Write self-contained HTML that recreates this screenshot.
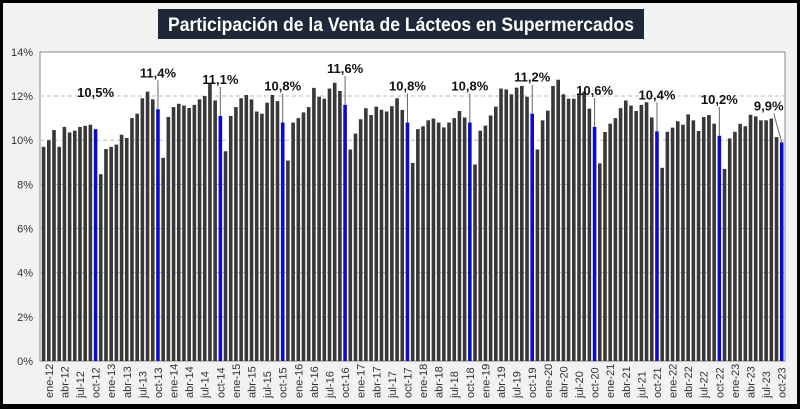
<!DOCTYPE html>
<html><head><meta charset="utf-8"><style>
html,body{margin:0;padding:0;}
body{width:800px;height:409px;overflow:hidden;background:#000;font-family:"Liberation Sans",sans-serif;}
#wrap{position:absolute;left:3px;top:3px;width:794px;height:401px;background:#f2f2f2;}
</style></head><body>
<div id="wrap"></div>
<svg id="chart" width="800" height="409" style="position:absolute;left:0;top:0">
<rect x="158" y="9" width="486" height="30" fill="#1e2838"/>
<text x="401" y="31" text-anchor="middle" fill="#fff" font-size="19" font-weight="bold" textLength="466" lengthAdjust="spacingAndGlyphs" font-family="Liberation Sans, sans-serif">Participación de la Venta de Lácteos en Supermercados</text>
<rect x="40" y="52" width="745" height="309" fill="#fff" stroke="#888" stroke-width="1"/>
<g id="grid"></g><g id="bars"></g><g id="ylab"></g><g id="xlab"></g><g id="labels"></g>
</svg>
<script>
const months=["ene","feb","mar","abr","may","jun","jul","ago","sep","oct","nov","dic"];
const values=[9.7,10.0,10.46,9.7,10.6,10.35,10.43,10.6,10.65,10.7,10.5,
8.46,9.6,9.7,9.8,10.25,10.1,11.0,11.2,11.9,12.2,11.85,11.4,
9.2,11.05,11.5,11.65,11.57,11.46,11.6,11.85,12.0,12.6,11.8,11.1,
9.5,11.1,11.5,11.9,12.05,11.85,11.3,11.2,11.7,12.05,11.77,10.8,
9.08,10.8,11.0,11.26,11.5,12.37,11.97,11.88,12.34,12.6,12.23,11.6,
9.58,10.3,10.95,11.45,11.14,11.52,11.38,11.3,11.54,11.9,11.37,10.8,
8.97,10.5,10.63,10.9,10.98,10.8,10.58,10.8,11.0,11.32,11.03,10.8,
8.9,10.43,10.66,11.12,11.52,12.34,12.3,12.08,12.38,12.46,11.97,11.2,
9.58,10.9,11.34,12.46,12.74,12.08,11.88,11.88,12.12,12.2,11.43,10.6,
8.95,10.37,10.75,11.0,11.45,11.8,11.57,11.32,11.6,11.72,11.03,10.4,
8.75,10.38,10.57,10.86,10.7,11.17,10.9,10.42,11.05,11.14,10.75,10.2,
8.7,10.08,10.38,10.74,10.63,11.15,11.08,10.9,10.9,10.98,10.14,9.9];
const yTicks=[0,2,4,6,8,10,12,14];
const NS="http://www.w3.org/2000/svg";
// categories: dic-11 .. oct-23
const categories=values.map((v,i)=>{const m=(i+11)%12;const y=11+Math.floor((i+11)/12);return months[m]+"-"+y;});
const y0=361,pxPer=22.08,xStart=43.6,pitch=5.198,bw=3.6;
const yS=v=>y0-v*pxPer;
const xS=i=>xStart+i*pitch;
function mk(t,a){const e=document.createElementNS(NS,t);for(const k in a)e.setAttribute(k,a[k]);return e;}
const grid=document.getElementById('grid'),ylab=document.getElementById('ylab');
yTicks.forEach(t=>{
 if(t>0&&t<14){const l=mk('line',{x1:40,x2:785,y1:yS(t),y2:yS(t),stroke:'#bbb','stroke-dasharray':'4,3'});
 
 
 grid.appendChild(l);}
 const tx=mk('text',{x:33,y:yS(t)+4,'text-anchor':'end','font-size':11,fill:'#333'});
 tx.textContent=t+'%';
 
 
 ylab.appendChild(tx);
});
const bars=document.getElementById('bars'),xlab=document.getElementById('xlab'),lab=document.getElementById('labels');
values.forEach((v,i)=>{
 const blue=categories[i].startsWith('oct');
 const r=mk('rect',{x:xS(i)-bw/2,y:yS(v),width:bw,height:y0-yS(v),fill:blue?'#0a0ad0':'#383838'});
 
 
 bars.appendChild(r);
 const m=months.indexOf(categories[i].split('-')[0]);
 if(m%3===0){
  const t=mk('text',{transform:`translate(${xS(i)+4},398) rotate(-90)`,'font-size':11,fill:'#333'});
  t.textContent=categories[i];
  
  
  xlab.appendChild(t);
 }
 if(blue){
  const last=i===values.length-1;
  const lx=xS(i)-(last?13:0), ly=yS(v)-32;
  const t=mk('text',{x:lx,y:ly,'text-anchor':'middle','font-size':13,'font-weight':'bold',fill:'#111'});
  t.textContent=v.toFixed(1).replace('.',',')+'%';
  
  
  lab.appendChild(t);
  if(i>10){const l=mk('line',{x1:lx+(last?5:0),y1:ly+3,x2:xS(i),y2:yS(v),stroke:'#666','stroke-width':1});
  
  
  lab.appendChild(l);}
 }
});
</script>
</body></html>
